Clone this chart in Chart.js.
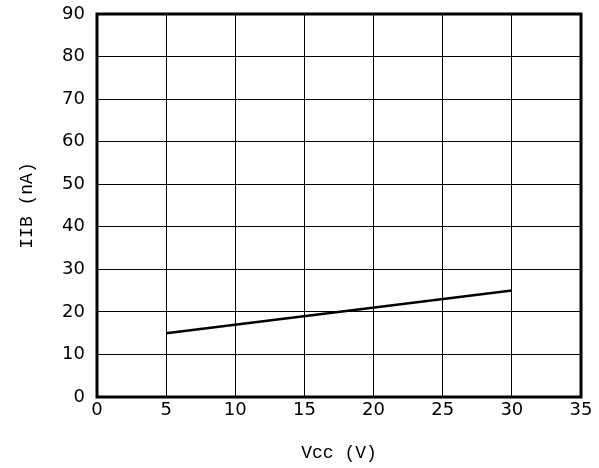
<!DOCTYPE html>
<html>
<head>
<meta charset="utf-8">
<script src="https://cdn.jsdelivr.net/npm/chart.js@4/dist/chart.umd.min.js"></script>
<style>
  html, body { margin: 0; padding: 0; background: #fff; }
  #wrap { width: 599px; height: 468px; position: relative; }
</style>
</head>
<body>
<div id="wrap"><canvas id="chart"></canvas></div>
<script>
const vccValues = [5, 30];
const iibValues = [15, 25];
const xTicks = [0, 5, 10, 15, 20, 25, 30, 35];
const yTicks = [0, 10, 20, 30, 40, 50, 60, 70, 80, 90];

const tickFont = { family: "'DejaVu Sans', sans-serif", size: 18 };
const titleFont = { family: "'Liberation Mono', 'DejaVu Sans Mono', monospace", size: 18 };

// thick frame around the plot area
const frame = {
  id: "frame",
  afterDraw(chart) {
    const { ctx, chartArea: a } = chart;
    ctx.save();
    ctx.strokeStyle = "#000";
    ctx.lineWidth = 3;
    ctx.strokeRect(a.left, a.top, a.right - a.left, a.bottom - a.top);
    ctx.restore();
  },
};

new Chart(document.getElementById("chart"), {
  type: "line",
  data: {
    datasets: [
      {
        data: vccValues.map((v, i) => ({ x: v, y: iibValues[i] })),
        borderColor: "#000",
        borderWidth: 2.5,
        pointRadius: 0,
        fill: false,
        tension: 0,
      },
    ],
  },
  options: {
    responsive: true,
    maintainAspectRatio: false,
    animation: false,
    layout: { padding: { top: 14, right: 18, left: 0, bottom: 0 } },
    plugins: { legend: { display: false }, tooltip: { enabled: false } },
    scales: {
      x: {
        type: "linear",
        min: 0,
        max: 35,
        afterBuildTicks: (s) => { s.ticks = xTicks.map((v) => ({ value: v })); },
        afterFit: (s) => { s.height = 71; },
        ticks: { color: "#000", font: tickFont, padding: 3, maxRotation: 0 },
        grid: { color: "#000", lineWidth: 1, drawTicks: false },
        border: { display: false },
        title: { display: true, text: "Vcc (V)", color: "#000", font: titleFont, padding: { top: 12 } },
      },
      y: {
        min: 0,
        max: 90,
        afterBuildTicks: (s) => { s.ticks = yTicks.map((v) => ({ value: v })); },
        afterFit: (s) => { s.width = 97; s.paddingTop = 0; s.paddingBottom = 0; },
        ticks: { color: "#000", font: tickFont, padding: 12 },
        grid: { color: "#000", lineWidth: 1, drawTicks: false },
        border: { display: false },
        title: { display: true, text: "IIB (nA)", color: "#000", font: titleFont, padding: { bottom: 0, top: 16 } },
      },
    },
  },
  plugins: [frame],
});
</script>
</body>
</html>
